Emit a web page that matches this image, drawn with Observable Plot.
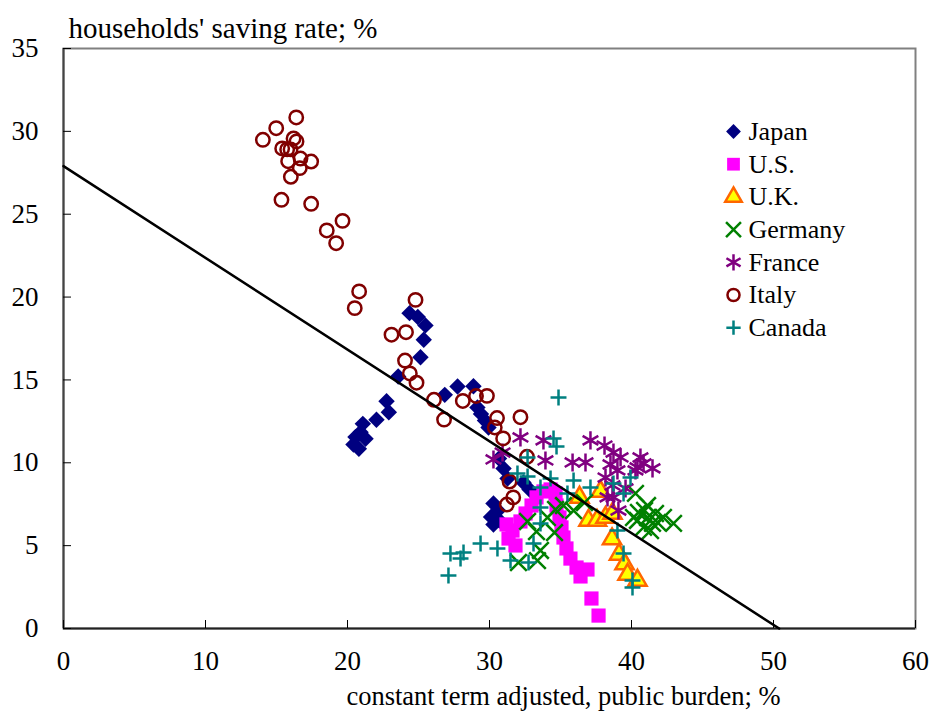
<!DOCTYPE html>
<html>
<head>
<meta charset="utf-8">
<script src="https://cdn.jsdelivr.net/npm/d3@7"></script>
<script src="https://cdn.jsdelivr.net/npm/@observablehq/plot@0.6"></script>
<style>
  html, body { margin: 0; padding: 0; background: #fff; }
  #chart { width: 931px; height: 711px; }
  #chart svg, #chart svg text { font-family: "Liberation Serif", "Times New Roman", serif !important; }
</style>
</head>
<body>
<div id="chart"></div>
<script>
// ---------------- DATA ----------------
const countries = ["Japan", "U.S.", "U.K.", "Germany", "France", "Italy", "Canada"];

const japanX = [24.37,24.95,25.49,25.37,25.14,23.57,22.75,22.91,22.04,21.08,20.92,20.56,21.27,20.80,20.42,26.85,27.75,28.87,29.15,29.40,29.68,29.93,30.67,30.99,31.27,32.39,32.82,30.28,30.60,30.11,30.70,30.28];
const japanY = [19.03,18.80,18.29,17.42,16.37,15.21,13.71,13.05,12.60,12.35,11.85,11.55,11.45,10.85,11.10,14.10,14.60,14.62,13.34,12.95,12.55,12.13,10.26,9.66,9.05,8.81,8.39,7.54,7.12,6.73,6.52,6.28];

const usX = [31.20,31.62,31.34,31.83,32.18,32.54,32.96,33.31,33.80,34.30,34.65,34.72,34.93,35.07,35.21,35.42,35.70,36.13,36.41,36.90,37.18,37.68];
const usY = [6.28,5.91,5.43,5.01,6.46,6.94,7.42,7.91,8.27,8.39,8.15,7.42,6.70,6.10,5.49,4.83,4.22,3.68,3.14,3.56,1.81,0.78];

const ukX = [36.97,37.57,38.17,38.66,36.34,37.82,38.63,39.12,39.51,39.72,40.42];
const ukY = [6.52,6.52,6.70,6.94,7.91,8.27,5.40,4.47,3.89,3.26,2.90];

const germanyX = [32.04,33.38,33.59,32.68,33.31,34.08,34.65,35.21,35.92,34.58,36.69,40.28,41.13,40.49,40.14,41.13,41.69,42.25,42.96,40.85,41.48,40.42,40.92,41.83,41.34];
const germanyY = [3.98,4.10,4.71,6.46,5.85,6.70,7.18,7.42,7.12,5.79,7.60,8.15,7.42,7.00,6.70,6.70,6.94,6.70,6.34,6.10,6.34,6.52,7.12,6.40,5.91];

const franceX = [30.28,30.92,32.18,33.80,33.94,35.85,36.76,37.11,38.10,38.73,39.23,38.52,39.01,38.17,38.66,38.31,39.08,40.63,40.85,40.42,41.48,40.28,38.73,39.58];
const franceY = [10.20,10.62,11.53,11.35,10.14,10.02,10.02,11.35,11.04,10.62,10.32,9.90,9.54,9.11,8.63,7.91,7.12,10.32,9.96,9.72,9.66,9.54,7.91,8.45];

const italyX = [14.04,14.98,16.39,16.20,16.41,15.40,15.75,15.99,15.82,16.69,17.44,16.64,16.01,15.35,17.44,19.65,18.54,19.20,20.82,20.51,24.79,23.10,24.12,24.05,24.39,24.86,26.09,26.80,28.12,29.05,29.82,30.53,30.37,30.96,32.18,32.64,31.41,31.67,31.22];
const italyY = [29.49,30.19,30.84,29.57,29.39,28.97,28.91,28.91,28.20,28.36,28.18,27.78,27.26,25.87,25.63,24.60,24.02,23.25,20.34,19.33,19.83,17.73,17.88,16.17,15.39,14.83,13.80,12.61,13.73,14.03,14.04,12.70,12.13,11.47,12.75,10.36,8.87,7.91,7.48];

const canadaX = [34.86,34.51,34.72,32.68,31.97,32.68,34.30,33.59,35.92,37.11,35.49,33.59,33.59,33.10,31.48,32.75,30.56,29.37,28.17,27.25,27.96,27.11,38.73,39.44,39.93,39.01,39.44,40.07,40.07];
const canadaY = [13.94,11.47,10.98,10.32,9.35,9.17,9.05,8.51,8.93,8.51,8.15,7.30,6.34,5.13,4.10,3.98,4.83,5.13,4.59,4.53,4.22,3.20,8.75,8.15,9.11,5.91,4.53,2.90,2.47];

// regression line endpoints
const lineX = [0, 50.4];
const lineY = [27.9, 0];

const xTicks = [0, 10, 20, 30, 40, 50, 60];
const yTicks = [0, 5, 10, 15, 20, 25, 30, 35];

const titleText = "households' saving rate; %";
const xLabelText = "constant term adjusted, public burden; %";

// ---------------- STYLES ----------------
const seriesX = [japanX, usX, ukX, germanyX, franceX, italyX, canadaX];
const seriesY = [japanY, usY, ukY, germanyY, franceY, italyY, canadaY];
const styles = [
  {symbol: "diamond2", r: 7.4, fill: "#000080", stroke: "none", strokeWidth: 0},
  {symbol: "square", r: 8, fill: "#ff00ff", stroke: "none", strokeWidth: 0},
  {symbol: "triangle", r: 6.8, fill: "#ffff00", stroke: "#ff6600", strokeWidth: 2.5},
  {symbol: "times", r: 7.6, fill: "none", stroke: "#008000", strokeWidth: 2.5},
  {symbol: "asterisk", r: 8.6, fill: "none", stroke: "#800080", strokeWidth: 2.5},
  {symbol: "circle", r: 6.7, fill: "none", stroke: "#800000", strokeWidth: 2.5},
  {symbol: "plus", r: 5.2, fill: "none", stroke: "#008080", strokeWidth: 2.5}
];

const tables = countries.map((c, i) => seriesX[i].map((x, j) => ({country: c, x, y: seriesY[i][j]})));

const font = "Liberation Serif";

const marks = [
  Plot.frame({stroke: "#808080", strokeWidth: 2}),
  Plot.ruleY([0], {stroke: "#222", strokeWidth: 2}),
  Plot.ruleX([0], {stroke: "#444", strokeWidth: 2}),
  Plot.axisX({ticks: xTicks, tickSize: -8, tickPadding: 30, fontSize: 27, label: null, tickFormat: d => d}),
  Plot.axisY({ticks: yTicks, tickSize: -8, tickPadding: 33, fontSize: 27, label: null, tickFormat: d => d})
];

tables.forEach((t, i) => {
  const s = styles[i];
  marks.push(Plot.dot(t, {x: "x", y: "y", symbol: () => s.symbol, r: s.r, fill: s.fill, stroke: s.stroke, strokeWidth: s.strokeWidth}));
});

marks.push(Plot.line(lineX.map((x, i) => ({x, y: lineY[i]})), {x: "x", y: "y", stroke: "#000", strokeWidth: 2.5}));

// legend
countries.forEach((c, i) => {
  const s = styles[i];
  marks.push(Plot.dot([c], {frameAnchor: "top-left", dx: 670, dy: 83 + i * 32.7, symbol: () => s.symbol, r: s.r * 0.9, fill: s.fill, stroke: s.stroke, strokeWidth: s.strokeWidth}));
  marks.push(Plot.text([c], {frameAnchor: "top-left", dx: 685, dy: 83 + i * 32.7, text: d => d, textAnchor: "start", lineAnchor: "middle", fontSize: 26, fill: "#000"}));
});

// titles
marks.push(Plot.text([titleText], {frameAnchor: "top-left", dx: 5, dy: -20, text: d => d, textAnchor: "start", lineAnchor: "middle", fontSize: 29, fill: "#000"}));
marks.push(Plot.text([xLabelText], {frameAnchor: "bottom", dx: 74, dy: 68, text: d => d, lineAnchor: "middle", fontSize: 26.5, fill: "#000"}));

const chart = Plot.plot({
  width: 931,
  height: 711,
  marginLeft: 63,
  marginRight: 16,
  marginTop: 48,
  marginBottom: 83,
  x: {domain: [0, 60]},
  y: {domain: [0, 35]},
  style: {fontFamily: font, fontSize: "26px", background: "#fff", color: "#000"},
  marks
});
document.getElementById("chart").appendChild(chart);
</script>
</body>
</html>
